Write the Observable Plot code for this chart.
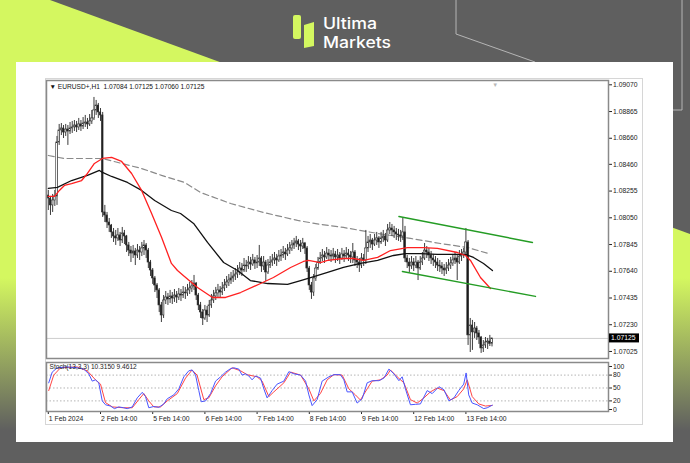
<!DOCTYPE html>
<html><head><meta charset="utf-8">
<script src="https://cdn.jsdelivr.net/npm/d3@7"></script>
<script src="https://cdn.jsdelivr.net/npm/@observablehq/plot@0.6"></script>
<style>
html,body{margin:0;padding:0;}
body{width:690px;height:463px;position:relative;overflow:hidden;background:#5f5f5f;font-family:"Liberation Sans",Arial,sans-serif;}
#bg{position:absolute;left:0;top:0;}
#panel{position:absolute;left:16px;top:62px;width:657px;height:380px;background:#fff;}
#outer{position:absolute;left:45px;top:78px;width:598px;height:347px;border:1px solid #d6d6d6;box-sizing:border-box;}
#price{position:absolute;left:46px;top:80px;}
#stoch{position:absolute;left:46px;top:362px;}
</style></head>
<body>
<svg id="bg" width="690" height="463">
  <defs><linearGradient id="lg" x1="0" y1="0" x2="0" y2="463" gradientUnits="userSpaceOnUse">
    <stop offset="0" stop-color="#d4f760"/><stop offset="0.6" stop-color="#d4f760"/><stop offset="0.93" stop-color="#5f5f5f"/>
  </linearGradient></defs>
  <polygon points="0,0 50,0 690,234 690,463 0,463" fill="url(#lg)"/>
  <polyline points="456,0 456,34 535,62" fill="none" stroke="#b5b5b5" stroke-width="1"/>
  <polyline points="682,0 682,110 673,110" fill="none" stroke="#b5b5b5" stroke-width="1"/>
  <rect x="293" y="15" width="8" height="24" rx="2" fill="#d4f760"/>
  <path d="M304,25 L314,22 L314,46 L304,48 Z" fill="#d4f760"/>
  <text x="323" y="29" fill="#fff" font-family="Inter" font-weight="500" font-size="15.8" textLength="54" lengthAdjust="spacingAndGlyphs">Ultima</text>
  <text x="323" y="48" fill="#fff" font-family="Inter" font-weight="500" font-size="15.8" textLength="68" lengthAdjust="spacingAndGlyphs">Markets</text>
</svg>
<div id="panel"></div>
<div id="outer"></div>
<div id="price"></div>
<div id="stoch"></div>
<script>
// ---- data ----
const firstOpen = 1.08221;
const close = [
1.08198,1.08145,1.08183,1.08214,1.08628,1.08720,1.08735,1.08704,1.08727,1.08712,
1.08735,1.08743,1.08758,1.08743,1.08766,1.08750,1.08773,1.08781,1.08766,1.08789,
1.08812,1.08873,1.08911,1.08858,1.08835,1.08091,1.08068,1.08014,1.07991,1.07938,
1.07907,1.07892,1.07915,1.07876,1.07930,1.07907,1.07838,1.07799,1.07776,1.07792,
1.07761,1.07799,1.07784,1.07815,1.07838,1.07799,1.07707,1.07646,1.07585,1.07531,
1.07493,1.07378,1.07301,1.07416,1.07439,1.07424,1.07447,1.07431,1.07454,1.07439,
1.07462,1.07454,1.07477,1.07470,1.07493,1.07508,1.07523,1.07546,1.07454,1.07378,
1.07324,1.07278,1.07339,1.07301,1.07378,1.07416,1.07447,1.07470,1.07493,1.07477,
1.07508,1.07531,1.07554,1.07569,1.07585,1.07600,1.07615,1.07631,1.07661,1.07646,
1.07684,1.07677,1.07707,1.07692,1.07723,1.07700,1.07707,1.07738,1.07677,1.07707,
1.07631,1.07684,1.07707,1.07723,1.07738,1.07723,1.07753,1.07761,1.07784,1.07769,
1.07799,1.07815,1.07838,1.07853,1.07869,1.07845,1.07830,1.07853,1.07815,1.07661,
1.07531,1.07477,1.07585,1.07661,1.07707,1.07738,1.07761,1.07746,1.07776,1.07761,
1.07753,1.07769,1.07746,1.07761,1.07738,1.07769,1.07753,1.07776,1.07761,1.07746,
1.07784,1.07723,1.07707,1.07684,1.07738,1.07723,1.07815,1.07861,1.07876,1.07845,
1.07876,1.07892,1.07861,1.07892,1.07907,1.07876,1.07953,1.07968,1.07953,1.07938,
1.07922,1.07915,1.07907,1.07938,1.07738,1.07707,1.07677,1.07707,1.07684,1.07707,
1.07661,1.07707,1.07738,1.07799,1.07784,1.07761,1.07738,1.07723,1.07707,1.07684,
1.07677,1.07661,1.07646,1.07661,1.07684,1.07700,1.07723,1.07738,1.07707,1.07753,
1.07761,1.07784,1.07861,1.07148,1.07224,1.07171,1.07201,1.07163,1.07132,1.07048,
1.07071,1.07094,1.07101,1.07084,1.07125];
const high = [
1.08260,1.08214,1.08229,1.08260,1.08674,1.08766,1.08773,1.08758,1.08766,1.08758,
1.08781,1.08789,1.08796,1.08789,1.08812,1.08796,1.08819,1.08835,1.08812,1.08842,
1.08873,1.08973,1.08950,1.08927,1.08888,1.08858,1.08145,1.08091,1.08045,1.07999,
1.07968,1.07953,1.07968,1.07938,1.07976,1.07953,1.07915,1.07861,1.07830,1.07838,
1.07815,1.07845,1.07830,1.07861,1.07876,1.07853,1.07815,1.07723,1.07661,1.07600,
1.07546,1.07508,1.07401,1.07454,1.07485,1.07470,1.07493,1.07477,1.07500,1.07485,
1.07508,1.07500,1.07523,1.07516,1.07539,1.07554,1.07569,1.07608,1.07554,1.07470,
1.07401,1.07347,1.07378,1.07370,1.07416,1.07462,1.07493,1.07516,1.07539,1.07523,
1.07554,1.07577,1.07600,1.07615,1.07631,1.07646,1.07661,1.07684,1.07707,1.07700,
1.07738,1.07723,1.07753,1.07746,1.07769,1.07746,1.07761,1.07838,1.07753,1.07753,
1.07723,1.07730,1.07753,1.07769,1.07784,1.07769,1.07799,1.07807,1.07830,1.07815,
1.07845,1.07861,1.07876,1.07892,1.07907,1.07884,1.07876,1.07892,1.07861,1.07830,
1.07677,1.07554,1.07615,1.07692,1.07746,1.07784,1.07807,1.07792,1.07822,1.07807,
1.07799,1.07815,1.07792,1.07807,1.07784,1.07815,1.07799,1.07822,1.07807,1.07792,
1.07853,1.07799,1.07753,1.07738,1.07776,1.07769,1.07953,1.07907,1.07922,1.07892,
1.07922,1.07938,1.07907,1.07938,1.07953,1.07930,1.07999,1.08014,1.07999,1.07984,
1.07968,1.07961,1.07953,1.08045,1.07984,1.07761,1.07738,1.07753,1.07738,1.07753,
1.07723,1.07753,1.07784,1.07853,1.07830,1.07815,1.07792,1.07769,1.07753,1.07738,
1.07723,1.07707,1.07692,1.07707,1.07730,1.07746,1.07769,1.07784,1.07769,1.07799,
1.07807,1.07815,1.07968,1.07876,1.07278,1.07263,1.07247,1.07217,1.07186,1.07140,
1.07109,1.07132,1.07125,1.07148,1.07125];
const low = [
1.08106,1.08068,1.08091,1.08137,1.08145,1.08605,1.08681,1.08658,1.08674,1.08605,
1.08689,1.08697,1.08712,1.08704,1.08720,1.08712,1.08727,1.08743,1.08727,1.08750,
1.08766,1.08796,1.08835,1.08812,1.08789,1.08053,1.08014,1.07968,1.07938,1.07892,
1.07861,1.07838,1.07869,1.07830,1.07853,1.07845,1.07784,1.07753,1.07707,1.07738,
1.07684,1.07738,1.07723,1.07753,1.07761,1.07738,1.07661,1.07600,1.07539,1.07477,
1.07431,1.07324,1.07247,1.07278,1.07385,1.07378,1.07393,1.07385,1.07401,1.07393,
1.07416,1.07408,1.07431,1.07424,1.07447,1.07462,1.07477,1.07493,1.07416,1.07339,
1.07278,1.07224,1.07263,1.07247,1.07286,1.07355,1.07393,1.07416,1.07439,1.07431,
1.07454,1.07485,1.07508,1.07523,1.07539,1.07554,1.07569,1.07585,1.07608,1.07600,
1.07631,1.07631,1.07654,1.07646,1.07677,1.07654,1.07661,1.07677,1.07631,1.07646,
1.07562,1.07615,1.07661,1.07677,1.07692,1.07677,1.07707,1.07715,1.07738,1.07723,
1.07753,1.07769,1.07792,1.07807,1.07822,1.07799,1.07784,1.07807,1.07769,1.07631,
1.07493,1.07424,1.07447,1.07562,1.07646,1.07692,1.07715,1.07700,1.07730,1.07715,
1.07707,1.07723,1.07700,1.07715,1.07692,1.07723,1.07707,1.07730,1.07715,1.07700,
1.07700,1.07677,1.07661,1.07631,1.07661,1.07677,1.07692,1.07784,1.07815,1.07799,
1.07830,1.07838,1.07815,1.07845,1.07861,1.07830,1.07861,1.07922,1.07907,1.07892,
1.07876,1.07869,1.07861,1.07876,1.07707,1.07661,1.07631,1.07654,1.07638,1.07661,
1.07569,1.07646,1.07684,1.07723,1.07738,1.07715,1.07692,1.07677,1.07661,1.07638,
1.07631,1.07615,1.07600,1.07615,1.07638,1.07654,1.07677,1.07692,1.07569,1.07692,
1.07715,1.07738,1.07753,1.07071,1.07017,1.07033,1.07125,1.07109,1.07079,1.07010,
1.07017,1.07048,1.07040,1.07063,1.07060];

// moving averages (bar index, price)
const maFastBar = [0,2.9,5.1,7.4,10.7,15.3,18.0,21.2,24.9,29.1,33.7,38.3,42.9,47.5,52.1,56.6,59.4,62.6,68.6,75.5,81.5,88.4,97.6,103.5,111.4,117.3,119.6,125.1,128.4,135.7,140.3,144.9,151.4,157.3,165.1,172.5,178.9,188.1,191.8,194.1,198.7,203.3];
const maFastVal = [1.08214,1.08214,1.08260,1.08298,1.08313,1.08336,1.08390,1.08467,1.08505,1.08513,1.08482,1.08390,1.08260,1.08083,1.07899,1.07700,1.07646,1.07600,1.07516,1.07439,1.07439,1.07477,1.07546,1.07592,1.07669,1.07715,1.07723,1.07707,1.07723,1.07738,1.07738,1.07723,1.07746,1.07799,1.07822,1.07822,1.07815,1.07784,1.07761,1.07723,1.07592,1.07508];
const maMidBar = [0,4.2,10.7,18.0,23.5,24.9,29.1,36.4,42.9,48.9,56.6,60.8,66.8,73.2,80.6,87.0,92.9,100.8,110.0,116.0,120.6,128.4,135.7,143.5,151.4,158.7,164.2,171.1,178.9,191.8,195.5,200.1,204.2];
const maMidVal = [1.08275,1.08283,1.08336,1.08375,1.08413,1.08398,1.08367,1.08321,1.08260,1.08183,1.08106,1.08083,1.08007,1.07861,1.07707,1.07646,1.07569,1.07546,1.07539,1.07569,1.07592,1.07631,1.07669,1.07700,1.07723,1.07761,1.07776,1.07776,1.07769,1.07769,1.07746,1.07700,1.07646];
const maSlowBar = [0,7.4,16.6,24.9,33.7,42.9,52.1,62.6,70.0,83.8,98.9,114.6,125.1,135.7,151.4,166.5,180.3,192.7,202.4];
const maSlowVal = [1.08528,1.08505,1.08505,1.08505,1.08467,1.08428,1.08375,1.08321,1.08244,1.08160,1.08091,1.08030,1.07999,1.07976,1.07930,1.07892,1.07853,1.07822,1.07776];

// channel trend lines
const chanUpperBar = [161.2, 222.6], chanUpperVal = [1.08060, 1.07861];
const chanLowerBar = [162.8, 224.0], chanLowerVal = [1.07638, 1.07447];

// stochastic (13,3,3)
const kBar = [0.2,1.8,4.1,8.7,13.3,16.3,18.6,20.2,21.7,23.2,24.8,26.3,28.6,30.4,32.4,34.7,36.3,38.6,40.9,43.2,44.7,46.2,48.5,50.8,53.1,54.7,57.7,60.0,62.3,64.6,66.1,67.7,69.2,70.3,72.3,74.6,76.9,79.2,81.5,83.8,85.3,87.6,89.1,90.7,92.2,93.7,95.3,97.6,99.1,100.6,102.9,105.2,108.3,110.6,112.9,116.0,118.3,119.8,121.3,123.6,125.9,129.0,131.3,134.3,135.9,137.4,139.7,142.0,144.3,146.6,148.9,152.0,154.3,156.6,158.9,161.2,162.7,164.2,166.5,168.8,171.1,174.2,176.5,179.6,181.9,184.2,186.5,188.7,191.0,192.1,193.3,194.9,197.2,200.2,201.8,204.1];
const kVal = [62,87,97,99,97,94,83,66,69,62,20,11,8,2,6,4,2,6,27,40,30,4,7,5,13,25,34,48,76,90,92,80,44,18,20,37,66,76,87,95,97,94,80,83,78,69,78,73,48,27,44,59,66,88,83,80,66,34,9,23,66,76,81,81,69,41,41,15,25,62,67,67,73,94,83,67,76,48,11,12,13,44,37,53,46,20,27,44,59,85,34,15,11,2,4,10];
const dBar = [0.2,2.5,5.6,13.3,17.9,21.7,24.0,26.3,29.4,34.7,38.6,41.6,43.9,46.2,48.5,51.6,54.7,59.3,63.1,66.1,68.4,71.5,73.8,76.9,79.9,84.5,88.4,91.4,96.0,98.3,101.4,103.7,108.3,111.4,116.0,119.8,122.1,125.1,128.2,131.3,135.1,138.2,141.2,143.5,146.6,148.9,152.7,155.8,157.3,160.4,163.5,166.5,169.6,172.7,175.7,178.8,181.9,184.9,188.0,191.0,192.6,194.9,197.9,201.0,204.1];
const dVal = [44,80,97,99,90,69,59,16,6,4,4,23,37,20,6,6,20,37,73,92,80,23,27,55,76,97,90,81,76,66,30,41,62,87,80,48,20,37,69,81,80,48,34,22,48,66,69,80,92,76,62,23,15,27,41,50,44,22,30,48,69,30,13,8,9.5];

const priceTicks = [1.09070,1.08865,1.08660,1.08460,1.08255,1.08050,1.07845,1.07640,1.07435,1.07230,1.07025];
const stochTicks = [0,20,50,80,100];
const stochLevels = [20,50,80];
const timeTickBars = [0,24,48,72,96,120,144,168,192];
const timeTickLabels = ["1 Feb 2024","2 Feb 14:00","5 Feb 14:00","6 Feb 14:00","7 Feb 14:00","8 Feb 14:00","9 Feb 14:00","12 Feb 14:00","13 Feb 14:00"];
const symbolName = "EURUSD+,H1";
const lastOHLC = [1.07084, 1.07125, 1.07060, 1.07125];
const stochName = "Stoch(13,3,3)";
const stochLast = [10.3150, 9.4612];

// ---- build ----
const n = close.length;
const bars = d3.range(n).map(i => ({i, open: i === 0 ? firstOpen : close[i-1], close: close[i], high: high[i], low: low[i]}));
const pts = (b, v) => b.map((x, i) => ({x, v: v[i]}));
const X_DOMAIN = [-0.83, 257.56];
const font = "'Liberation Sans', Arial, sans-serif";

const price = Plot.plot({
  width: 600, height: 278,
  marginLeft: 0, marginRight: 38, marginTop: 0, marginBottom: 0,
  style: {fontFamily: font, fontSize: "6.8px", color: "#222", background: "transparent", overflow: "visible"},
  x: {domain: X_DOMAIN, axis: null},
  y: {domain: [1.06971, 1.09103], axis: "right", ticks: priceTicks, tickFormat: d => d.toFixed(5), tickSize: 3, tickPadding: 1.5, label: null},
  marks: [
    Plot.ruleY([close[n-1]], {stroke: "#cdcdcd", strokeWidth: 1}),
    Plot.line(pts(maSlowBar, maSlowVal), {x: "x", y: "v", stroke: "#8a8a8a", strokeWidth: 1.2, strokeDasharray: "6,3.5"}),
    Plot.ruleX(bars, {x: "i", y1: "low", y2: "high", stroke: "#3c3c3c", strokeWidth: 1}),
    Plot.rect(bars, {x1: d => d.i - 0.36, x2: d => d.i + 0.36, y1: "open", y2: "close",
      fill: d => d.close >= d.open ? "#ffffff" : "#1b1b1b", stroke: "#2b2b2b", strokeWidth: 0.6}),
    Plot.line(pts(maMidBar, maMidVal), {x: "x", y: "v", stroke: "#111", strokeWidth: 1.3}),
    Plot.line(pts(maFastBar, maFastVal), {x: "x", y: "v", stroke: "#ff2020", strokeWidth: 1.3}),
    Plot.line(pts(chanUpperBar, chanUpperVal), {x: "x", y: "v", stroke: "#249c24", strokeWidth: 1.4}),
    Plot.line(pts(chanLowerBar, chanLowerVal), {x: "x", y: "v", stroke: "#249c24", strokeWidth: 1.4}),
    Plot.text([n + 0.5], {x: d => d, text: () => "▼", frameAnchor: "top", dy: 2, fill: "#b8b8b8", fontSize: 6}),
    Plot.frame({stroke: "#8a8a8a", strokeWidth: 1.5}),
    Plot.text([`▼ ${symbolName}  ${lastOHLC.map(v => v.toFixed(5)).join(" ")}`], {frameAnchor: "top-left", dx: 3, dy: 3.5, fill: "#111", fontSize: 6.6})
  ]
});
document.getElementById("price").appendChild(price);

// bid label on the price axis, placed with the plot's own y scale
const ys = price.scale("y");
const yb = ys.apply(close[n-1]);
const svgP = d3.select(price);
svgP.append("rect").attr("x", 563).attr("y", yb - 4.5).attr("width", 30).attr("height", 9).attr("fill", "#000");
svgP.append("text").attr("x", 565).attr("y", yb).attr("dy", "0.35em").attr("fill", "#fff")
  .attr("text-anchor", "start").style("text-anchor", "start")
  .attr("font-size", "6.8px").attr("font-family", font).text(close[n-1].toFixed(5));

const stoch = Plot.plot({
  width: 600, height: 65,
  marginLeft: 0, marginRight: 38, marginTop: 0, marginBottom: 16,
  style: {fontFamily: font, fontSize: "6.8px", color: "#222", background: "transparent", overflow: "visible"},
  x: {domain: X_DOMAIN, axis: "bottom", ticks: timeTickBars, tickFormat: () => "", tickSize: 3, label: null},
  y: {domain: [-4.65, 109.3], axis: "right", ticks: stochTicks, tickSize: 3, tickPadding: 1.5, label: null},
  marks: [
    Plot.ruleY(stochLevels, {stroke: "#b4b4b4", strokeDasharray: "1.5,2"}),
    Plot.line(pts(dBar, dVal), {x: "x", y: "v", stroke: "#ff4545", strokeWidth: 1}),
    Plot.line(pts(kBar, kVal), {x: "x", y: "v", stroke: "#4a55ff", strokeWidth: 1}),
    Plot.frame({stroke: "#8a8a8a", strokeWidth: 1.5}),
    Plot.text(timeTickLabels, {x: (d, i) => timeTickBars[i], frameAnchor: "bottom", dy: 9, dx: 0.5, textAnchor: "start", fill: "#222", fontSize: 6.8}),
    Plot.text([`${stochName} ${stochLast.map(v => v.toFixed(4)).join(" ")}`], {frameAnchor: "top-left", dx: 3, dy: 2, fill: "#222", fontSize: 6.6})
  ]
});
document.getElementById("stoch").appendChild(stoch);
</script>
</body></html>
